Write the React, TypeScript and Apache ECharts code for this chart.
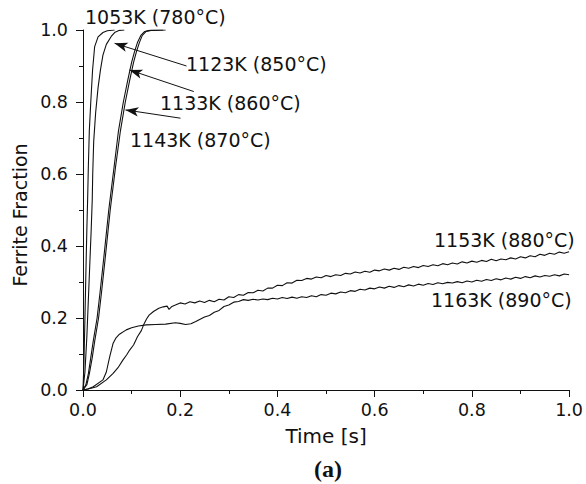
import React, { useEffect, useRef } from "react";
import * as echarts from "echarts";

// Ferrite fraction vs time [s] — [time, fraction] pairs
const c1053: number[][] = [
  [0, 0], [0.002, 0.08], [0.004, 0.2], [0.006, 0.33], [0.008, 0.45], [0.0095, 0.528],
  [0.011, 0.62], [0.013, 0.72], [0.016, 0.8], [0.0197, 0.889], [0.024, 0.954],
  [0.031, 0.981], [0.041, 0.993], [0.05, 0.998], [0.065, 1.0],
];
const c1123: number[][] = [
  [0, 0], [0.004, 0.05], [0.008, 0.15], [0.011, 0.25], [0.014, 0.35], [0.017, 0.45],
  [0.019, 0.528], [0.02, 0.6], [0.022, 0.69], [0.026, 0.77], [0.031, 0.84],
  [0.036, 0.89], [0.041, 0.93], [0.048, 0.96], [0.058, 0.982], [0.066, 0.994],
  [0.075, 0.999], [0.085, 1.0],
];
const c1133: number[][] = [
  [0, 0], [0.006, 0.015], [0.011, 0.045], [0.016, 0.09], [0.021, 0.135], [0.029, 0.2],
  [0.035, 0.27], [0.043, 0.37], [0.053, 0.5], [0.064, 0.62], [0.073, 0.72],
  [0.083, 0.8], [0.092, 0.86], [0.1, 0.91], [0.106, 0.94], [0.112, 0.965],
  [0.119, 0.985], [0.127, 0.996], [0.136, 0.999], [0.165, 1.0],
];
const c1143: number[][] = [
  [0, 0], [0.008, 0.015], [0.013, 0.045], [0.019, 0.09], [0.024, 0.135], [0.032, 0.2],
  [0.038, 0.27], [0.046, 0.37], [0.056, 0.5], [0.067, 0.62], [0.077, 0.72],
  [0.087, 0.8], [0.096, 0.86], [0.104, 0.91], [0.11, 0.94], [0.116, 0.965],
  [0.122, 0.985], [0.13, 0.996], [0.14, 0.999], [0.17, 1.0],
];
const c1153: number[][] = [
  [0, 0], [0.015, 0.004], [0.028, 0.009], [0.048, 0.028], [0.062, 0.046], [0.072, 0.062],
  [0.082, 0.083], [0.09, 0.098], [0.096, 0.111], [0.104, 0.125], [0.112, 0.148],
  [0.12, 0.165], [0.126, 0.185], [0.131, 0.198], [0.136, 0.208], [0.145, 0.218],
  [0.156, 0.227], [0.165, 0.231], [0.173, 0.233], [0.177, 0.224], [0.183, 0.232],
  [0.19, 0.236],
  [0.2, 0.242], [0.21, 0.239], [0.22, 0.245], [0.23, 0.242], [0.24, 0.247], [0.25, 0.243],
  [0.26, 0.249], [0.27, 0.245], [0.28, 0.252], [0.29, 0.25], [0.3, 0.259], [0.31, 0.257],
  [0.32, 0.265], [0.33, 0.263], [0.34, 0.271], [0.35, 0.27], [0.36, 0.277], [0.37, 0.275],
  [0.38, 0.283], [0.39, 0.283], [0.4, 0.291], [0.41, 0.29], [0.42, 0.298], [0.43, 0.297],
  [0.44, 0.305], [0.45, 0.304], [0.46, 0.31], [0.47, 0.308], [0.48, 0.314], [0.49, 0.312],
  [0.5, 0.318], [0.51, 0.315], [0.52, 0.32], [0.53, 0.318], [0.54, 0.324], [0.55, 0.322],
  [0.56, 0.328], [0.57, 0.325], [0.58, 0.33], [0.59, 0.327], [0.6, 0.333], [0.61, 0.331],
  [0.62, 0.336], [0.63, 0.333], [0.64, 0.338], [0.65, 0.335], [0.66, 0.341], [0.67, 0.338],
  [0.68, 0.343], [0.69, 0.34], [0.7, 0.346], [0.71, 0.343], [0.72, 0.348], [0.73, 0.345],
  [0.74, 0.351], [0.75, 0.348], [0.76, 0.353], [0.77, 0.35], [0.78, 0.356], [0.79, 0.353],
  [0.8, 0.358], [0.81, 0.355], [0.82, 0.36], [0.83, 0.357], [0.84, 0.363], [0.85, 0.359],
  [0.86, 0.364], [0.87, 0.362], [0.88, 0.367], [0.89, 0.364], [0.9, 0.37], [0.91, 0.367],
  [0.92, 0.373], [0.93, 0.37], [0.94, 0.377], [0.95, 0.374], [0.96, 0.38], [0.97, 0.377],
  [0.98, 0.383], [0.99, 0.38], [1.0, 0.384],
];
const c1163: number[][] = [
  [0, 0], [0.01, 0.003], [0.021, 0.009], [0.041, 0.028], [0.048, 0.05], [0.055, 0.093],
  [0.062, 0.13], [0.068, 0.145], [0.075, 0.155], [0.089, 0.167], [0.1, 0.173],
  [0.114, 0.178], [0.13, 0.181], [0.15, 0.182], [0.17, 0.183], [0.19, 0.187],
  [0.2, 0.185], [0.211, 0.182], [0.222, 0.184], [0.232, 0.19], [0.24, 0.196], [0.25, 0.203],
  [0.26, 0.207], [0.27, 0.216], [0.28, 0.221], [0.29, 0.232], [0.3, 0.236], [0.31, 0.244],
  [0.32, 0.246], [0.33, 0.251], [0.34, 0.249], [0.35, 0.252], [0.36, 0.25], [0.37, 0.253],
  [0.38, 0.251], [0.39, 0.255], [0.4, 0.253], [0.41, 0.257], [0.42, 0.254], [0.43, 0.258],
  [0.44, 0.255], [0.45, 0.259], [0.46, 0.257], [0.47, 0.262], [0.48, 0.259], [0.49, 0.265],
  [0.5, 0.263], [0.51, 0.269], [0.52, 0.267], [0.53, 0.272], [0.54, 0.27], [0.55, 0.276],
  [0.56, 0.274], [0.57, 0.28], [0.58, 0.278], [0.59, 0.283], [0.6, 0.281], [0.61, 0.286],
  [0.62, 0.283], [0.63, 0.288], [0.64, 0.285], [0.65, 0.29], [0.66, 0.287], [0.67, 0.292],
  [0.68, 0.289], [0.69, 0.294], [0.7, 0.291], [0.71, 0.296], [0.72, 0.293], [0.73, 0.298],
  [0.74, 0.295], [0.75, 0.299], [0.76, 0.297], [0.77, 0.301], [0.78, 0.298], [0.79, 0.303],
  [0.8, 0.3], [0.81, 0.305], [0.82, 0.302], [0.83, 0.307], [0.84, 0.304], [0.85, 0.309],
  [0.86, 0.306], [0.87, 0.311], [0.88, 0.308], [0.89, 0.313], [0.9, 0.31], [0.91, 0.315],
  [0.92, 0.312], [0.93, 0.317], [0.94, 0.314], [0.95, 0.318], [0.96, 0.316], [0.97, 0.32],
  [0.98, 0.317], [0.99, 0.322], [1.0, 0.32],
];

const seriesNames = ["1053K (780°C)", "1123K (850°C)", "1133K (860°C)", "1143K (870°C)", "1153K (880°C)", "1163K (890°C)"];
const seriesData = [c1053, c1123, c1133, c1143, c1153, c1163];

// arrows: [from, to] in data coordinates
const arrow1123 = [[0.213, 0.9], [0.065, 0.963]];
const arrow1133 = [[0.228, 0.829], [0.0955, 0.889]];
const arrow1143 = [[0.2006, 0.755], [0.0874, 0.778]];

const FONT = "'DejaVu Sans', 'Liberation Sans', Arial, sans-serif";
const INK = "#111";

export default function App() {
  const ref = useRef<HTMLDivElement>(null);
  useEffect(() => {
    if (!ref.current) return;
    const chart = echarts.init(ref.current, undefined, { renderer: "svg" });
    const arrowLine = (a: number[][]) => [
      { coord: a[0], symbol: "none" },
      { coord: a[1], symbol: "arrow", symbolSize: [7, 13] },
    ];
    const series: any[] = seriesData.map((d, i) => ({
      name: seriesNames[i],
      type: "line",
      data: d,
      showSymbol: false,
      symbol: "none",
      smooth: false,
      lineStyle: { color: INK, width: 1.1 },
      z: 3,
    }));
    series.push({
      name: "arrows",
      type: "line",
      data: [],
      markLine: {
        silent: true,
        animation: false,
        symbol: ["none", "arrow"],
        label: { show: false },
        lineStyle: { color: INK, width: 1, type: "solid" },
        emphasis: { disabled: true },
        data: [arrowLine(arrow1123), arrowLine(arrow1133), arrowLine(arrow1143)],
      },
    });
    const labelText = (text: string, x: number, y: number) => ({
      type: "text",
      x: x - 2,
      y,
      style: { text, font: `19px ${FONT}`, fill: INK, align: "left", verticalAlign: "middle" },
    });
    chart.setOption({
      animation: false,
      backgroundColor: "#fff",
      grid: { left: 83, right: 11, top: 30, bottom: 94, containLabel: false },
      xAxis: {
        type: "value",
        min: 0,
        max: 1,
        interval: 0.2,
        name: "Time [s]",
        nameLocation: "middle",
        nameGap: 36,
        nameTextStyle: { fontFamily: FONT, fontSize: 20, color: INK },
        axisLine: { show: true, lineStyle: { color: INK, width: 1 } },
        axisTick: { show: true, inside: false, length: 7, lineStyle: { color: INK } },
        minorTick: { show: true, splitNumber: 2, length: 4, lineStyle: { color: INK } },
        splitLine: { show: false },
        axisLabel: {
          margin: 11,
          fontFamily: FONT,
          fontSize: 17.5,
          color: INK,
          formatter: (v: number) => v.toFixed(1),
        },
      },
      yAxis: {
        type: "value",
        min: 0,
        max: 1,
        interval: 0.2,
        name: "Ferrite Fraction",
        nameLocation: "middle",
        nameGap: 45,
        nameTextStyle: { fontFamily: FONT, fontSize: 19, color: INK, padding: [0, 10, 0, 0] },
        axisLine: { show: true, lineStyle: { color: INK, width: 1 } },
        axisTick: { show: true, inside: false, length: 7, lineStyle: { color: INK } },
        minorTick: { show: true, splitNumber: 2, length: 4, lineStyle: { color: INK } },
        splitLine: { show: false },
        axisLabel: {
          margin: 15,
          fontFamily: FONT,
          fontSize: 17.5,
          color: INK,
          formatter: (v: number) => v.toFixed(1),
        },
      },
      graphic: [
        labelText(seriesNames[0], 87, 17),
        labelText(seriesNames[1], 188, 64),
        labelText(seriesNames[2], 162, 102.5),
        labelText(seriesNames[3], 132, 140),
        labelText(seriesNames[4], 436, 240),
        labelText(seriesNames[5], 433, 300),
        {
          type: "text",
          x: 328,
          y: 469,
          style: {
            text: "(a)",
            font: `bold 24px 'Liberation Serif', 'Times New Roman', serif`,
            fill: INK,
            align: "center",
            verticalAlign: "middle",
          },
        },
      ],
      series,
    });
    return () => chart.dispose();
  }, []);
  return (
    <div
      ref={ref}
      style={{ position: "absolute", left: 0, top: 0, width: 586, height: 484, background: "#fff" }}
    />
  );
}
